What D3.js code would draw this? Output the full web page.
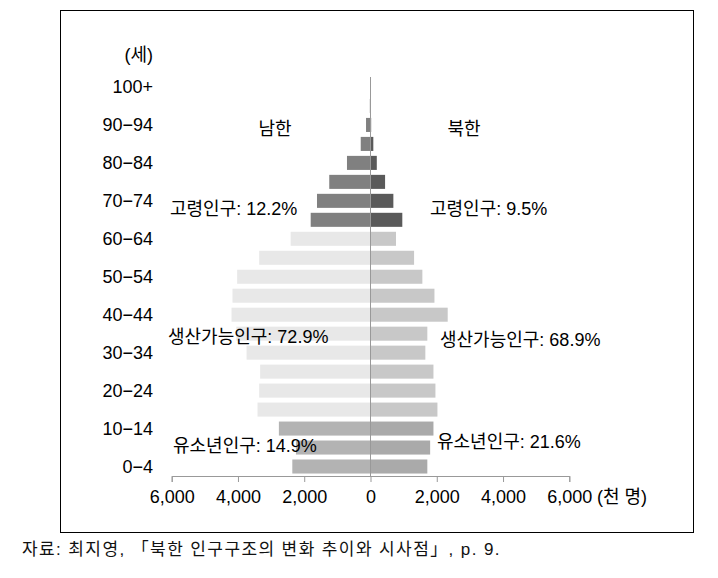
<!DOCTYPE html>
<html><head><meta charset="utf-8">
<script src="https://cdn.jsdelivr.net/npm/d3@7/dist/d3.min.js"></script>
<style>
html,body{margin:0;padding:0;background:#fff;}
svg{display:block;}
text{font-family:"Liberation Sans","Noto Sans CJK KR",sans-serif;}
</style></head>
<body>
<svg id="chart" width="718" height="578"></svg>
<script>
// age groups from youngest to oldest
const ageGroups = ["0-4","5-9","10-14","15-19","20-24","25-29","30-34","35-39","40-44","45-49",
  "50-54","55-59","60-64","65-69","70-74","75-79","80-84","85-89","90-94","95-99","100+"];
// population, thousands
const southValues = [2360,2250,2765,3410,3360,3330,3740,4050,4195,4165,
  4025,3360,2410,1805,1615,1245,710,295,135,20,3];
const northValues = [1715,1800,1900,2020,1960,1900,1655,1715,2330,1930,
  1565,1315,770,960,690,440,190,85,20,5,1];
// age group class: 0 youth, 1 working age, 2 elderly
const groupOf = [0,0,0,1,1,1,1,1,1,1,1,1,1,2,2,2,2,2,2,2,2];
const yTickLabels = ["0−4","10−14","20−24","30−34","40−44","50−54","60−64","70−74","80−84","90−94","100+"];
const yTickGroups = ["0-4","10-14","20-24","30-34","40-44","50-54","60-64","70-74","80-84","90-94","100+"];
const xTicks = [-6000,-4000,-2000,0,2000,4000,6000];
const southColors = ["#b3b3b3","#e8e8e8","#808080"];
const northColors = ["#aaaaaa","#c8c8c8","#5a5a5a"];
const annotations = [
  {text:"남한", x:275, y:129, anchor:"middle"},
  {text:"북한", x:464, y:129, anchor:"middle"},
  {text:"고령인구: 12.2%", x:170, y:209, anchor:"start"},
  {text:"고령인구: 9.5%", x:430, y:209, anchor:"start"},
  {text:"생산가능인구: 72.9%", x:168, y:337, anchor:"start"},
  {text:"생산가능인구: 68.9%", x:440, y:340, anchor:"start"},
  {text:"유소년인구: 14.9%", x:173, y:446, anchor:"start"},
  {text:"유소년인구: 21.6%", x:437, y:442, anchor:"start"}
];

const svg = d3.select("#chart");

// frame
svg.append("rect").attr("x",60.5).attr("y",10.5).attr("width",633).attr("height",522)
  .attr("fill","none").attr("stroke","#000").attr("stroke-width",1);

const x = d3.scaleLinear().domain([-6000,6000]).range([171.7,569.3]);
const y = d3.scaleBand().domain(ageGroups).range([476,77.5]).paddingInner(0.26).paddingOuter(0.13);

const rows = ageGroups.map((a,i)=>({age:a, s:southValues[i], n:northValues[i], g:groupOf[i]}));

svg.append("g").selectAll("rect").data(rows).join("rect")
  .attr("x", d=>x(-d.s)).attr("width", d=>x(0)-x(-d.s))
  .attr("y", d=>y(d.age)).attr("height", y.bandwidth())
  .attr("fill", d=>southColors[d.g]);
svg.append("g").selectAll("rect").data(rows).join("rect")
  .attr("x", x(0)).attr("width", d=>x(d.n)-x(0))
  .attr("y", d=>y(d.age)).attr("height", y.bandwidth())
  .attr("fill", d=>northColors[d.g]);

// center line
svg.append("line").attr("x1",x(0)).attr("x2",x(0)).attr("y1",77).attr("y2",476)
  .attr("stroke","#999").attr("stroke-width",1);

// x axis
const xAxis = d3.axisBottom(x).tickValues(xTicks).tickSizeOuter(0).tickSize(6).tickPadding(8)
  .tickFormat(d=>d3.format(",")(Math.abs(d)));
const gx = svg.append("g").attr("transform","translate(0,476)").call(xAxis);
gx.select(".domain").attr("stroke","#999");
gx.selectAll(".tick line").attr("stroke","#999");
gx.selectAll(".tick text").attr("font-size",18).attr("fill","#000")
  .attr("font-family","'Liberation Sans','Noto Sans CJK KR',sans-serif");
svg.append("text").attr("x",597).attr("y",497).attr("dy","0.35em")
  .attr("font-size",18).text("(천 명)");

// y labels
svg.append("g").selectAll("text").data(yTickGroups).join("text")
  .attr("x",153).attr("y",d=>y(d)+y.bandwidth()/2).attr("dy","0.35em")
  .attr("text-anchor","end").attr("font-size",18)
  .text((d,i)=>yTickLabels[i]);
svg.append("text").attr("x",153).attr("y",55).attr("dy","0.35em")
  .attr("text-anchor","end").attr("font-size",18).text("(세)");

// annotations
svg.append("g").selectAll("text").data(annotations).join("text")
  .attr("x",d=>d.x).attr("y",d=>d.y).attr("dy","0.35em")
  .attr("text-anchor",d=>d.anchor).attr("font-size",18)
  .text(d=>d.text);

// source
svg.append("text").attr("x",22).attr("y",549).attr("dy","0.35em")
  .attr("font-size",17).attr("letter-spacing","1.4px").attr("fill","#111")
  .attr("font-family","'Liberation Serif','Noto Sans CJK KR',serif")
  .text("자료: 최지영, 「북한 인구구조의 변화 추이와 시사점」, p. 9.");
</script>
</body></html>
